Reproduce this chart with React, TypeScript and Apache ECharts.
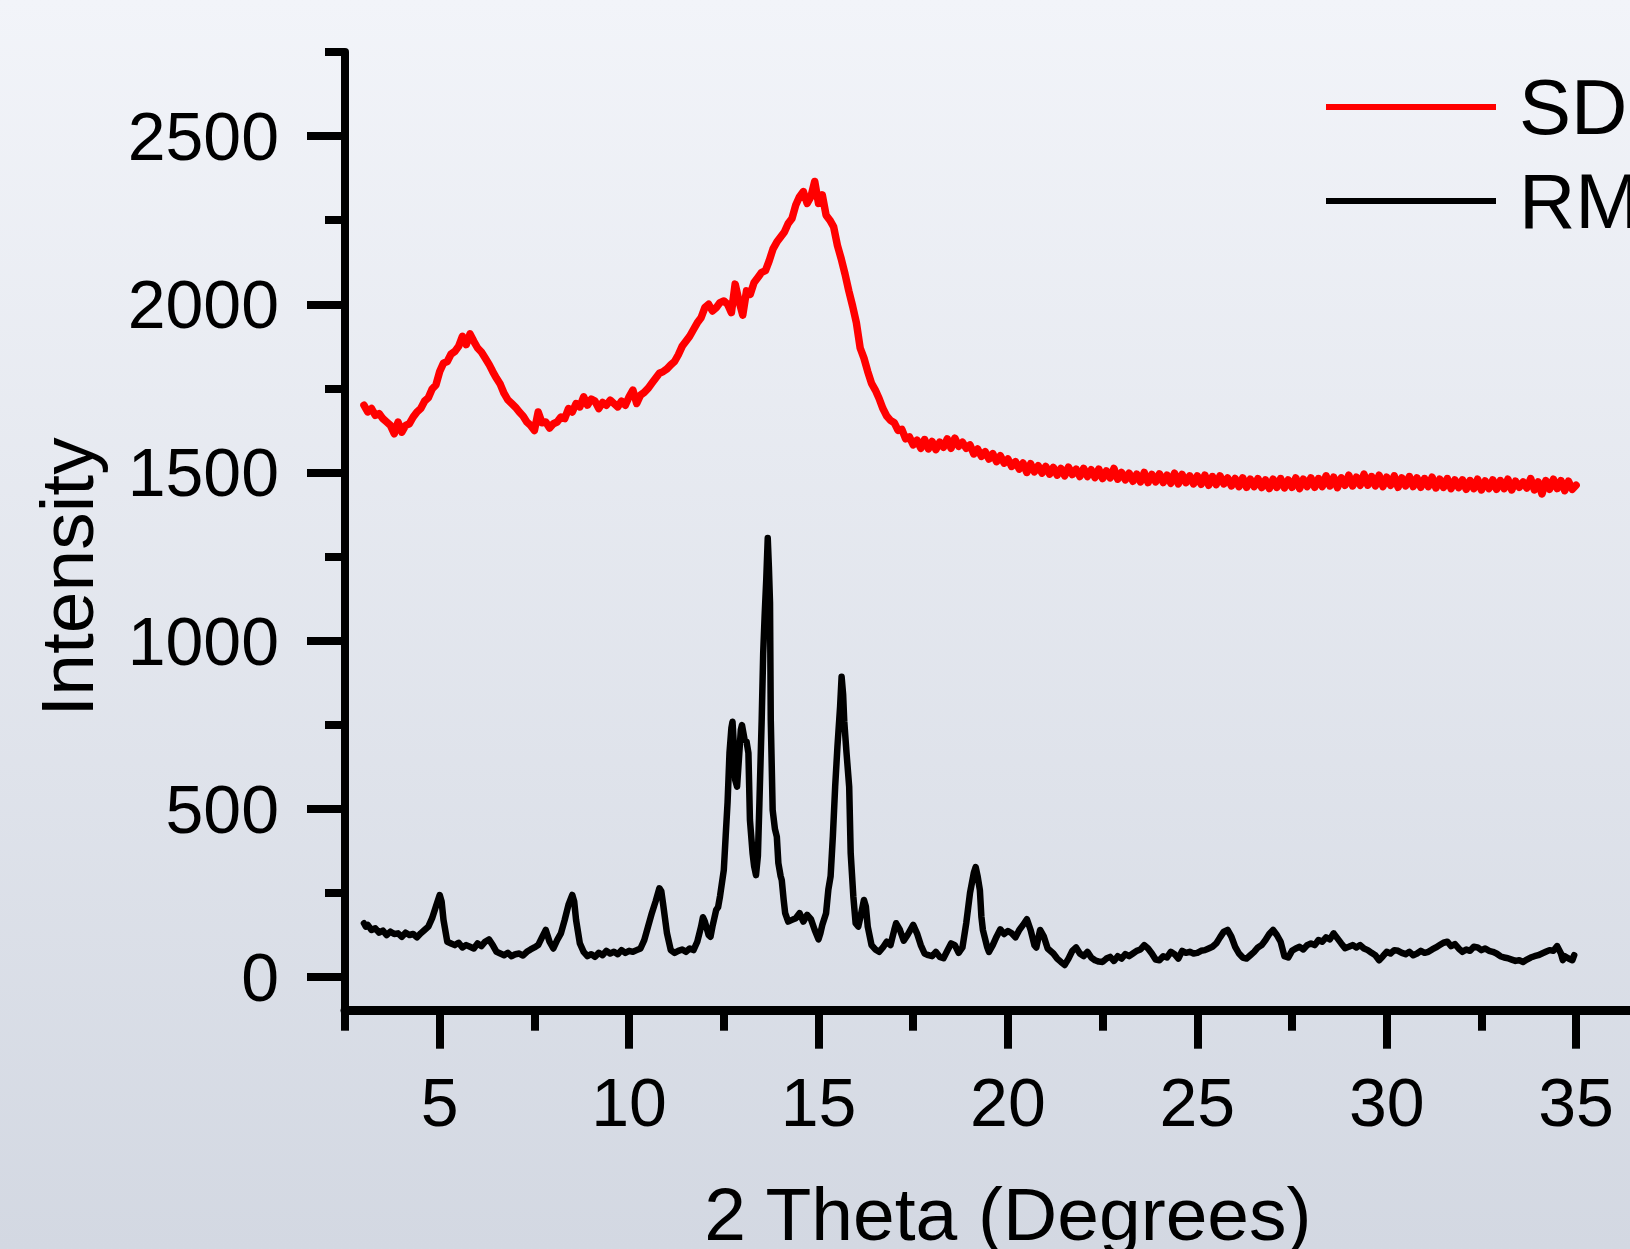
import { useEffect, useRef } from "react";
import * as echarts from "echarts";

// Axis ranges and ticks
const xMin = 2.5;
const xMax = 37.5;
const yMin = -100;
const yMax = 2750;
const xMajorTicks = [5, 10, 15, 20, 25, 30, 35];
const xMinorTicks = [2.5, 7.5, 12.5, 17.5, 22.5, 27.5, 32.5, 37.5];
const yMajorTicks = [0, 500, 1000, 1500, 2000, 2500];
const yMinorTicks = [250, 750, 1250, 1750, 2250, 2750];

const seriesNames = ["SD", "RM"];
const xTitle = "2 Theta (Degrees)";
const yTitle = "Intensity";

// SD pattern: scanned from 3.0 to 35.0 in 0.1 degree steps
const sdStart = 3.0;
const sdStep = 0.1;
const sdIntensity = [
  1700, 1680, 1690, 1670, 1675, 1660, 1650, 1640, 1615, 1650, // 3.x
  1620, 1640, 1645, 1665, 1680, 1690, 1712, 1722, 1748, 1760, // 4.x
  1800, 1825, 1830, 1852, 1860, 1875, 1905, 1880, 1912, 1890, // 5.x
  1870, 1858, 1840, 1822, 1800, 1780, 1762, 1735, 1716, 1705, // 6.x
  1694, 1680, 1668, 1650, 1640, 1625, 1680, 1648, 1650, 1632, // 7.x
  1645, 1650, 1665, 1660, 1690, 1680, 1705, 1695, 1725, 1700, // 8.x
  1718, 1712, 1690, 1708, 1700, 1715, 1705, 1695, 1712, 1700, // 9.x
  1725, 1745, 1705, 1730, 1738, 1750, 1765, 1780, 1795, 1800, // 10.x
  1808, 1820, 1830, 1850, 1875, 1890, 1905, 1925, 1945, 1960, // 11.x
  1990, 2000, 1980, 1990, 2005, 2010, 2000, 1975, 2060, 2010, // 12.x
  1968, 2040, 2030, 2065, 2080, 2095, 2100, 2130, 2165, 2185, // 13.x
  2200, 2215, 2240, 2255, 2295, 2320, 2335, 2300, 2320, 2365, // 14.x
  2300, 2325, 2265, 2250, 2230, 2175, 2135, 2090, 2040, 1995, // 15.x
  1945, 1870, 1840, 1800, 1765, 1745, 1720, 1690, 1668, 1655, // 16.x
  1648, 1625, 1628, 1600, 1606, 1582, 1596, 1572, 1598, 1570, // 17.x
  1592, 1568, 1590, 1575, 1600, 1572, 1602, 1578, 1590, 1572, // 18.x
  1582, 1555, 1570, 1548, 1562, 1540, 1556, 1532, 1550, 1528, // 19.x
  1540, 1518, 1532, 1510, 1528, 1500, 1526, 1502, 1520, 1498, // 20.x
  1518, 1495, 1515, 1492, 1512, 1490, 1516, 1494, 1510, 1488, // 21.x
  1512, 1488, 1508, 1485, 1510, 1482, 1505, 1484, 1512, 1480, // 22.x
  1500, 1478, 1498, 1474, 1495, 1472, 1500, 1470, 1494, 1472, // 23.x
  1496, 1470, 1492, 1468, 1498, 1466, 1494, 1470, 1490, 1466, // 24.x
  1490, 1465, 1492, 1462, 1488, 1464, 1490, 1466, 1484, 1460, // 25.x
  1482, 1458, 1484, 1456, 1480, 1458, 1482, 1455, 1478, 1452, // 26.x
  1480, 1456, 1482, 1454, 1478, 1456, 1484, 1452, 1480, 1458, // 27.x
  1484, 1456, 1482, 1458, 1490, 1460, 1486, 1455, 1484, 1462, // 28.x
  1492, 1460, 1486, 1462, 1495, 1462, 1488, 1460, 1492, 1458, // 29.x
  1486, 1462, 1490, 1456, 1484, 1460, 1488, 1458, 1484, 1456, // 30.x
  1482, 1458, 1486, 1454, 1480, 1456, 1482, 1452, 1478, 1455, // 31.x
  1478, 1450, 1476, 1452, 1480, 1448, 1475, 1452, 1478, 1450, // 32.x
  1476, 1452, 1480, 1448, 1474, 1456, 1472, 1454, 1482, 1448, // 33.x
  1472, 1436, 1476, 1450, 1480, 1452, 1476, 1446, 1474, 1450, // 34.x
  1462, // 35.0
];

// RM pattern: [2theta, intensity]
const rmPoints: [number, number][] = [
  [3.0, 160], [3.05, 150], [3.1, 155], [3.2, 140], [3.3, 145], [3.4, 132], [3.5, 138], [3.6, 125], [3.7, 135], [3.8, 128], [3.9, 130],
  [4.0, 120], [4.1, 132], [4.2, 125], [4.3, 128], [4.4, 118], [4.5, 130], [4.6, 140], [4.7, 150], [4.8, 175], [4.9, 210],
  [5.0, 244], [5.05, 225], [5.1, 170], [5.2, 105], [5.3, 100], [5.4, 95], [5.5, 102], [5.6, 88], [5.7, 95], [5.8, 90], [5.9, 85],
  [6.0, 100], [6.1, 92], [6.2, 105], [6.3, 112], [6.4, 95], [6.5, 75], [6.6, 70], [6.7, 65], [6.8, 72], [6.9, 62],
  [7.0, 68], [7.1, 70], [7.2, 64], [7.3, 75], [7.4, 82], [7.5, 88], [7.6, 95], [7.7, 118], [7.8, 140], [7.9, 105],
  [8.0, 85], [8.1, 110], [8.2, 130], [8.3, 170], [8.4, 215], [8.5, 244], [8.55, 225], [8.6, 170], [8.7, 100], [8.8, 75], [8.9, 62],
  [9.0, 68], [9.1, 60], [9.2, 72], [9.3, 65], [9.4, 78], [9.5, 70], [9.6, 75], [9.7, 68], [9.8, 80], [9.9, 72],
  [10.0, 78], [10.1, 75], [10.2, 80], [10.3, 85], [10.4, 110], [10.5, 150], [10.6, 190], [10.7, 225], [10.8, 264], [10.85, 255], [10.9, 215],
  [11.0, 130], [11.1, 80], [11.2, 72], [11.3, 78], [11.4, 82], [11.5, 75], [11.6, 85], [11.7, 80], [11.8, 105], [11.9, 150], [11.95, 178],
  [12.0, 165], [12.1, 125], [12.15, 120], [12.2, 150], [12.3, 200], [12.35, 208], [12.4, 240], [12.5, 318], [12.55, 420], [12.6, 520],
  [12.65, 666], [12.7, 740], [12.73, 759], [12.77, 680], [12.8, 586], [12.85, 566], [12.9, 650], [12.95, 735], [12.98, 749],
  [13.05, 705], [13.1, 700], [13.15, 666], [13.19, 467], [13.26, 368], [13.3, 330], [13.35, 303], [13.4, 360], [13.44, 517],
  [13.5, 764], [13.54, 963], [13.58, 1080], [13.62, 1180], [13.66, 1305], [13.69, 1220], [13.72, 1112], [13.74, 764], [13.79, 496],
  [13.85, 440], [13.9, 417], [13.94, 339], [14.0, 300], [14.03, 288], [14.08, 230], [14.12, 190], [14.2, 165], [14.3, 170],
  [14.4, 175], [14.5, 190], [14.6, 165], [14.7, 185], [14.8, 172], [14.9, 140], [15.0, 112], [15.05, 130], [15.1, 155],
  [15.2, 190], [15.26, 260], [15.32, 300], [15.38, 420], [15.44, 566], [15.5, 685], [15.57, 804], [15.61, 893], [15.65, 840],
  [15.68, 760], [15.74, 666], [15.81, 566], [15.85, 368], [15.92, 239], [15.98, 160], [16.05, 150], [16.1, 175], [16.2, 229],
  [16.25, 210], [16.3, 150], [16.4, 95], [16.5, 82], [16.6, 75], [16.7, 88], [16.8, 105], [16.9, 95], [17.0, 140], [17.05, 160],
  [17.15, 140], [17.25, 108], [17.35, 125], [17.5, 155], [17.6, 130], [17.7, 95], [17.8, 70], [17.9, 65],
  [18.0, 62], [18.1, 75], [18.2, 60], [18.3, 56], [18.4, 78], [18.5, 100], [18.6, 95], [18.7, 72], [18.8, 88], [18.9, 160],
  [19.0, 250], [19.1, 310], [19.15, 327], [19.2, 300], [19.26, 259], [19.3, 180], [19.34, 140], [19.45, 90], [19.5, 75],
  [19.6, 95], [19.7, 120], [19.8, 142], [19.9, 128], [20.0, 137], [20.1, 130], [20.2, 118], [20.3, 140], [20.4, 155],
  [20.5, 172], [20.6, 140], [20.7, 95], [20.75, 88], [20.85, 140], [20.95, 120], [21.05, 85], [21.2, 70], [21.3, 55],
  [21.4, 45], [21.5, 36], [21.6, 55], [21.7, 78], [21.8, 88], [21.9, 70], [22.0, 62], [22.1, 75], [22.2, 58], [22.3, 50],
  [22.4, 46], [22.5, 45], [22.6, 55], [22.7, 60], [22.8, 48], [22.9, 62], [23.0, 55], [23.1, 68], [23.2, 62], [23.3, 70],
  [23.4, 78], [23.5, 82], [23.6, 95], [23.7, 85], [23.8, 70], [23.9, 52], [24.0, 50], [24.1, 62], [24.2, 58], [24.3, 75],
  [24.4, 68], [24.5, 55], [24.6, 78], [24.7, 72], [24.8, 75], [24.9, 70], [25.0, 72], [25.1, 78], [25.2, 80], [25.3, 85],
  [25.4, 90], [25.5, 100], [25.6, 118], [25.7, 135], [25.8, 140], [25.9, 120], [26.0, 90], [26.1, 70], [26.2, 58],
  [26.3, 55], [26.4, 65], [26.5, 75], [26.6, 88], [26.7, 95], [26.8, 110], [26.9, 128], [27.0, 140], [27.1, 125],
  [27.2, 105], [27.3, 62], [27.4, 58], [27.5, 78], [27.6, 85], [27.7, 90], [27.8, 82], [27.9, 95], [28.0, 100], [28.1, 95],
  [28.2, 110], [28.3, 105], [28.4, 118], [28.5, 112], [28.6, 130], [28.7, 115], [28.8, 100], [28.9, 86], [29.0, 90],
  [29.1, 95], [29.2, 88], [29.3, 95], [29.4, 85], [29.5, 80], [29.6, 72], [29.7, 65], [29.8, 50], [29.9, 62], [30.0, 75],
  [30.1, 70], [30.2, 80], [30.3, 78], [30.4, 72], [30.5, 68], [30.6, 75], [30.7, 65], [30.8, 70], [30.9, 78], [31.0, 72],
  [31.1, 75], [31.2, 82], [31.3, 88], [31.4, 95], [31.5, 102], [31.6, 105], [31.7, 92], [31.8, 98], [31.9, 85], [32.0, 75],
  [32.1, 82], [32.2, 78], [32.3, 90], [32.4, 88], [32.5, 80], [32.6, 85], [32.7, 78], [32.8, 75], [32.9, 70], [33.0, 62],
  [33.1, 58], [33.2, 56], [33.3, 52], [33.4, 48], [33.5, 50], [33.6, 45], [33.7, 52], [33.8, 58], [33.9, 62], [34.0, 65],
  [34.1, 70], [34.2, 75], [34.3, 80], [34.4, 78], [34.5, 92], [34.6, 70], [34.65, 50], [34.7, 62], [34.8, 55], [34.9, 50],
  [34.95, 65],
];

const FONT = '"Liberation Sans", Arial, Helvetica, sans-serif';

export default function App() {
  const ref = useRef<HTMLDivElement>(null);

  useEffect(() => {
    const chart = echarts.init(ref.current!, null, { renderer: "svg" });
    const sdData = sdIntensity.map((v, i) => [Number((sdStart + i * sdStep).toFixed(2)), v]);

    const gridLeft = 345;
    const gridTop = 52;
    const gridWidth = 1325.8;
    const gridHeight = 958.7;
    const plain = (v: number) => String(v);

    const option: any = {
      animation: false,
      backgroundColor: new echarts.graphic.LinearGradient(0, 0, 0, 1, [
        { offset: 0, color: "#f2f4f9" },
        { offset: 1, color: "#d3d8e2" },
      ]),
      grid: {
        left: gridLeft,
        top: gridTop,
        width: gridWidth,
        height: gridHeight,
        containLabel: false,
        outerBoundsMode: "none",
      },
      legend: {
        orient: "vertical",
        left: 1321,
        top: 63,
        icon: "rect",
        itemWidth: 170,
        itemHeight: 6,
        itemGap: 16,
        data: seriesNames,
        textStyle: { fontSize: 78, color: "#000", fontFamily: FONT, padding: [0, 0, 0, 18] },
        selectedMode: false,
      },
      xAxis: [
        {
          type: "value",
          min: xMin,
          max: xMax,
          position: "bottom",
          axisLine: { show: true, onZero: false, lineStyle: { color: "#000", width: 9 } },
          axisTick: {
            show: true,
            customValues: xMajorTicks,
            length: 38,
            lineStyle: { color: "#000", width: 8 },
          },
          axisLabel: {
            customValues: xMajorTicks,
            fontSize: 68,
            color: "#000",
            fontFamily: FONT,
            margin: 57,
            formatter: plain,
          },
          splitLine: { show: false },
          name: xTitle,
          nameLocation: "middle",
          nameGap: 166,
          nameTextStyle: { fontSize: 75, color: "#000", fontFamily: FONT },
        },
        {
          type: "value",
          min: xMin,
          max: xMax,
          position: "bottom",
          axisLine: { show: false, onZero: false },
          axisTick: {
            show: true,
            customValues: xMinorTicks,
            length: 20,
            lineStyle: { color: "#000", width: 8 },
          },
          axisLabel: { show: false },
          splitLine: { show: false },
        },
      ],
      yAxis: [
        {
          type: "value",
          min: yMin,
          max: yMax,
          position: "left",
          axisLine: { show: true, onZero: false, lineStyle: { color: "#000", width: 8 } },
          axisTick: {
            show: true,
            customValues: yMajorTicks,
            length: 38,
            lineStyle: { color: "#000", width: 8 },
          },
          axisLabel: {
            customValues: yMajorTicks,
            fontSize: 68,
            color: "#000",
            fontFamily: FONT,
            margin: 66,
            formatter: plain,
          },
          splitLine: { show: false },
        },
        {
          type: "value",
          min: yMin,
          max: yMax,
          position: "left",
          axisLine: { show: false, onZero: false },
          axisTick: {
            show: true,
            customValues: yMinorTicks,
            length: 20,
            lineStyle: { color: "#000", width: 8 },
          },
          axisLabel: { show: false },
          splitLine: { show: false },
        },
      ],
      graphic: [
        {
          type: "text",
          x: 67,
          y: 577,
          rotation: Math.PI / 2,
          style: {
            text: yTitle,
            fontSize: 75,
            fontFamily: FONT,
            fill: "#000",
            align: "center",
            verticalAlign: "middle",
          },
        },
      ],
      series: [
        {
          name: seriesNames[0],
          type: "line",
          data: sdData,
          symbol: "none",
          showSymbol: false,
          lineStyle: { color: "#ff0000", width: 7.5, join: "round", cap: "round" },
          itemStyle: { color: "#ff0000" },
          z: 3,
        },
        {
          name: seriesNames[1],
          type: "line",
          data: rmPoints,
          symbol: "none",
          showSymbol: false,
          lineStyle: { color: "#000000", width: 6.5, join: "round", cap: "round" },
          itemStyle: { color: "#000000" },
          z: 2,
        },
      ],
    };

    chart.setOption(option);
    return () => chart.dispose();
  }, []);

  return (
    <div
      ref={ref}
      style={{ position: "absolute", left: 0, top: 0, width: 1630, height: 1249 }}
    />
  );
}
